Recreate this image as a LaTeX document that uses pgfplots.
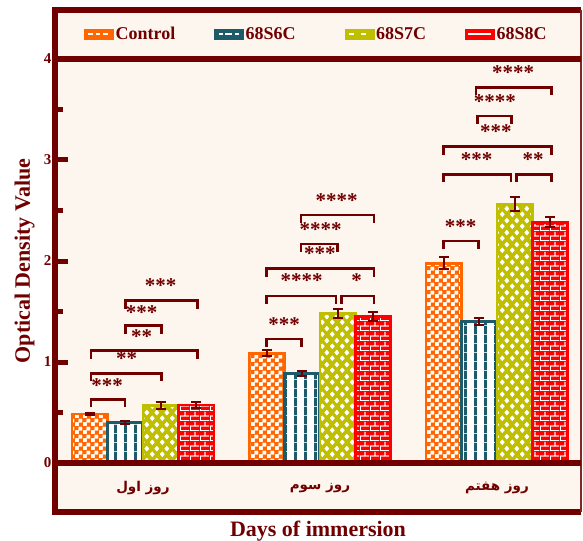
\documentclass[border=0pt]{standalone}
\usepackage{pgfplots}
\pgfplotsset{compat=1.18}
\usepackage{fontspec}
\setmainfont{Liberation Serif}
\newfontfamily\arabicfont[Script=Arabic]{DejaVu Sans}
\TeXXeTstate=1
\usetikzlibrary{patterns}

\definecolor{maroon}{HTML}{700000}
\definecolor{cream}{HTML}{FDF6EF}
\definecolor{ctrlorange}{HTML}{FF6600}
\definecolor{sixteal}{HTML}{1D5B6B}
\definecolor{sevenolive}{HTML}{BFBF00}
\definecolor{eightred}{HTML}{FF0000}

% fill patterns for the four materials
\pgfdeclarepatternformonly{checkerbig}{\pgfqpoint{0pt}{0pt}}{\pgfqpoint{7.5pt}{7.5pt}}{\pgfqpoint{7.5pt}{7.5pt}}{%
  \pgfpathrectangle{\pgfqpoint{0pt}{0pt}}{\pgfqpoint{3.75pt}{3.75pt}}%
  \pgfpathrectangle{\pgfqpoint{3.75pt}{3.75pt}}{\pgfqpoint{3.75pt}{3.75pt}}%
  \pgfusepath{fill}}
\pgfdeclarepatternformonly{vstripes}{\pgfqpoint{0pt}{0pt}}{\pgfqpoint{9.5pt}{9pt}}{\pgfqpoint{9.5pt}{9pt}}{%
  \pgfpathrectangle{\pgfqpoint{0pt}{0pt}}{\pgfqpoint{3pt}{9pt}}%
  \pgfusepath{fill}}
\pgfdeclarepatternformonly{diamonds}{\pgfqpoint{0pt}{0pt}}{\pgfqpoint{10pt}{12pt}}{\pgfqpoint{10pt}{12pt}}{%
  \pgfpathmoveto{\pgfqpoint{2.5pt}{0.1pt}}\pgfpathlineto{\pgfqpoint{4.95pt}{3pt}}%
  \pgfpathlineto{\pgfqpoint{2.5pt}{5.9pt}}\pgfpathlineto{\pgfqpoint{0.05pt}{3pt}}\pgfpathclose
  \pgfpathmoveto{\pgfqpoint{7.5pt}{6.1pt}}\pgfpathlineto{\pgfqpoint{9.95pt}{9pt}}%
  \pgfpathlineto{\pgfqpoint{7.5pt}{11.9pt}}\pgfpathlineto{\pgfqpoint{5.05pt}{9pt}}\pgfpathclose
  \pgfusepath{fill}}
\pgfdeclarepatternformonly{brickwall}{\pgfqpoint{0pt}{0pt}}{\pgfqpoint{10pt}{10pt}}{\pgfqpoint{10pt}{10pt}}{%
  \pgfsetlinewidth{0.9pt}%
  \pgfpathmoveto{\pgfqpoint{0pt}{0.5pt}}\pgfpathlineto{\pgfqpoint{10pt}{0.5pt}}%
  \pgfpathmoveto{\pgfqpoint{0pt}{5.5pt}}\pgfpathlineto{\pgfqpoint{10pt}{5.5pt}}%
  \pgfpathmoveto{\pgfqpoint{0.5pt}{0.5pt}}\pgfpathlineto{\pgfqpoint{0.5pt}{5.5pt}}%
  \pgfpathmoveto{\pgfqpoint{5.5pt}{5.5pt}}\pgfpathlineto{\pgfqpoint{5.5pt}{10pt}}%
  \pgfusepath{stroke}}

\pgfplotsset{
  errbars/.style={ybar, bar width=0.2, draw=none, fill=none, forget plot,
    error bars/y dir=both, error bars/y explicit,
    error bars/error bar style={draw=maroon, line width=2pt},
    error bars/error mark options={draw=maroon, rotate=90, mark size=5pt, line width=2pt}},
}

% significance bracket: x1, x2, height
\newcommand{\sigbracket}[3]{%
  \draw[maroon, line width=2.7pt, line join=miter]
    ([yshift=-8pt]axis cs:#1,#3) -- (axis cs:#1,#3) -- (axis cs:#2,#3) -- ([yshift=-8pt]axis cs:#2,#3);}
% significance stars: x, y, stars
\newcommand{\sigstars}[3]{%
  \node[text=maroon, font=\fontsize{21}{21}\selectfont\bfseries, inner sep=0pt, anchor=center]
    at (axis cs:#1,#2) {#3};}

\begin{document}
\begin{tikzpicture}
\begin{axis}[
  name=ax,
  scale only axis,
  width=526pt, height=502pt,
  xmin=-0.497, xmax=2.475,
  ymin=-0.485, ymax=4.485,
  clip=false,
  axis background/.style={fill=cream},
  axis line style={draw=none},
  ybar,
  xtick={0,1,2},
  xticklabels={{\arabicfont\bfseries\beginR روز اول\endR},
                {\arabicfont\bfseries\beginR روز سوم\endR},
                {\arabicfont\bfseries\beginR روز هفتم\endR}},
  x tick style={draw=none},
  xticklabel style={anchor=center, yshift=24pt, text=maroon, font=\fontsize{13.5}{15}\selectfont},
  ytick={0,1,2,3,4},
  minor ytick={0.5,1.5,2.5,3.5},
  ytick pos=left,
  tick align=inside,
  major tick length=13pt,
  minor tick length=8pt,
  y tick style={draw=maroon, line width=5pt},
  /pgf/number format/assume math mode=true,
  yticklabel style={text=maroon, font=\fontsize{15}{18}\selectfont\bfseries},
  xlabel={Days of immersion},
  ylabel={Optical Density Value},
  every axis x label/.style={at={(rel axis cs:0.5,-0.0478)}, anchor=base,
    text=maroon, font=\fontsize{22}{26}\selectfont\bfseries},
  every axis y label/.style={at={(rel axis cs:-0.0476,0.5)}, anchor=base, rotate=90,
    text=maroon, font=\fontsize{22}{26}\selectfont\bfseries},
  legend columns=4,
  legend style={draw=none, fill=none, inner sep=0pt,
    at={(rel axis cs:0.0552,0.952)}, anchor=west,
    text=maroon, font=\fontsize{18}{20}\selectfont\bfseries,
    /tikz/every even column/.append style={column sep=37pt},
    nodes={inner xsep=2pt}},
]

% Control
\addplot[ybar, bar width=0.2, bar shift=-0.3, draw=none, forget plot,
  pattern=checkerbig, pattern color=white,
  preaction={fill=ctrlorange}, postaction={draw=ctrlorange, line width=2.5pt}]
  coordinates {(0,0.485) (1,1.086) (2,1.977)};
% 68S6C
\addplot[ybar, bar width=0.2, bar shift=-0.1, draw=none, forget plot,
  pattern=vstripes, pattern color=sixteal,
  preaction={fill=white}, postaction={draw=sixteal, line width=3pt}]
  coordinates {(0,0.400) (1,0.888) (2,1.405)};
% 68S7C
\addplot[ybar, bar width=0.2, bar shift=0.1, draw=none, forget plot,
  pattern=diamonds, pattern color=white,
  preaction={fill=sevenolive}, postaction={draw=sevenolive, line width=2.5pt}]
  coordinates {(0,0.569) (1,1.482) (2,2.564)};
% 68S8C
\addplot[ybar, bar width=0.2, bar shift=0.3, draw=none, forget plot,
  pattern=brickwall, pattern color=white,
  preaction={fill=eightred}, postaction={draw=eightred, line width=2.5pt}]
  coordinates {(0,0.572) (1,1.449) (2,2.383)};

% standard deviations
\addplot[bar shift=-0.3, errbars] coordinates {(0,0.485) +- (0,0.012) (1,1.086) +- (0,0.028) (2,1.977) +- (0,0.060)};
\addplot[bar shift=-0.1, errbars] coordinates {(0,0.400) +- (0,0.012) (1,0.888) +- (0,0.022) (2,1.405) +- (0,0.035)};
\addplot[bar shift=0.1, errbars]  coordinates {(0,0.569) +- (0,0.036) (1,1.482) +- (0,0.045) (2,2.564) +- (0,0.065)};
\addplot[bar shift=0.3, errbars]  coordinates {(0,0.572) +- (0,0.030) (1,1.449) +- (0,0.045) (2,2.383) +- (0,0.050)};

% legend keys
\addlegendimage{legend image code/.code={
  \fill[ctrlorange] (0pt,-5pt) rectangle (29pt,5pt);
  \draw[white, line width=1.3pt, dash pattern=on 4.5pt off 3pt] (4pt,0pt) -- (26pt,0pt);}}
\addlegendentry{Control}
\addlegendimage{legend image code/.code={
  \fill[sixteal] (0pt,-5pt) rectangle (29pt,5pt);
  \draw[white, line width=1.3pt, dash pattern=on 4pt off 2.5pt on 7pt off 2.5pt] (4pt,0pt) -- (26pt,0pt);}}
\addlegendentry{68S6C\rule{10pt}{0pt}}
\addlegendimage{legend image code/.code={
  \fill[sevenolive] (0pt,-5pt) rectangle (29pt,5pt);
  \draw[white, line width=1.3pt, dash pattern=on 5pt off 7pt] (4pt,0pt) -- (26pt,0pt);}}
\addlegendentry{68S7C}
\addlegendimage{legend image code/.code={
  \fill[eightred] (0pt,-5pt) rectangle (29pt,5pt);
  \draw[white, line width=1.3pt] (3pt,0pt) -- (26pt,0pt);}}
\addlegendentry{68S8C}

% frame of the panel
\draw[maroon, line width=6.5pt, line join=miter]
  (rel axis cs:1,1) -- (rel axis cs:0,1) -- (rel axis cs:0,0) -- (rel axis cs:1,0);
\draw[maroon!85, line width=2pt] (rel axis cs:1,1) -- (rel axis cs:1,0);
\draw[maroon, line width=6.5pt] (axis cs:-0.497,0) -- (axis cs:2.475,0);
\draw[maroon, line width=6pt] (axis cs:-0.497,4) -- (axis cs:2.475,4);

% day 1 comparisons
\sigbracket{-0.294}{-0.102}{0.631}  \sigstars{-0.203}{0.762}{***}
\sigbracket{-0.294}{0.106}{0.888}   \sigstars{-0.092}{1.030}{**}
\sigbracket{-0.294}{0.309}{1.112}   \sigstars{-0.007}{1.250}{**}
\sigbracket{-0.098}{0.106}{1.359}   \sigstars{-0.007}{1.492}{***}
\sigbracket{-0.098}{0.309}{1.607}   \sigstars{0.100}{1.752}{***}
% day 3 comparisons
\sigbracket{0.699}{0.897}{1.228}    \sigstars{0.798}{1.366}{***}
\sigbracket{0.699}{1.090}{1.653}    \sigstars{0.897}{1.805}{****}
\sigbracket{1.123}{1.305}{1.653}    \sigstars{1.207}{1.805}{*}
\sigbracket{0.699}{1.305}{1.924}    \sigstars{1.000}{2.069}{***}
\sigbracket{0.893}{1.100}{2.168}    \sigstars{1.004}{2.307}{****}
\sigbracket{0.893}{1.305}{2.455}    \sigstars{1.094}{2.597}{****}
% day 7 comparisons
\sigbracket{1.697}{1.894}{2.198}    \sigstars{1.795}{2.340}{***}
\sigbracket{1.697}{2.079}{2.858}    \sigstars{1.885}{3.007}{***}
\sigbracket{2.111}{2.309}{2.858}    \sigstars{2.205}{3.007}{**}
\sigbracket{1.697}{2.309}{3.132}    \sigstars{1.994}{3.280}{***}
\sigbracket{1.889}{2.083}{3.436}    \sigstars{1.989}{3.577}{****}
\sigbracket{1.881}{2.309}{3.720}    \sigstars{2.092}{3.864}{****}
\end{axis}
\pgfresetboundingbox
\path ([xshift=-55pt,yshift=-28pt]ax.south west) rectangle ([xshift=2pt,yshift=10pt]ax.north east);
\end{tikzpicture}
\end{document}
